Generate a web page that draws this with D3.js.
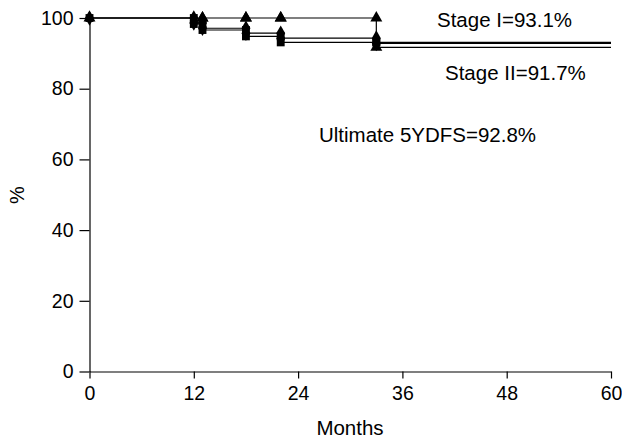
<!DOCTYPE html>
<html>
<head>
<meta charset="utf-8">
<script src="https://cdn.jsdelivr.net/npm/d3@7"></script>
<style>
  body { margin: 0; background: #fff; }
  svg { font-family: "Liberation Sans", Arial, sans-serif; }
</style>
</head>
<body>
<svg id="chart" width="622" height="439"></svg>
<script>
// Disease-free survival curves (months vs %)
const monthTicks = [0, 12, 24, 36, 48, 60];
const pctTicks = [0, 20, 40, 60, 80, 100];

// Stage I (squares)
const stageIMonths = [0, 12, 13, 18, 22, 33];
const stageIValues = [100, 98.3, 96.6, 94.8, 93.1, 93.1];
// Stage II (triangles)
const stageIIMonths = [0, 13, 18, 22, 33];
const stageIIValues = [100, 100, 100, 100, 91.7];
// All patients (diamonds)
const overallMonths = [0, 12, 13, 18, 22, 33];
const overallValues = [100, 98.6, 97.1, 95.7, 94.3, 92.8];

const labels = [
  { text: 'Stage I=93.1%', x: 437, y: 27 },
  { text: 'Stage II=91.7%', x: 445, y: 80 },
  { text: 'Ultimate 5YDFS=92.8%', x: 319, y: 142 }
];

const svg = d3.select('#chart');
const x = d3.scaleLinear().domain([0, 60]).range([89.5, 611]);
const y = d3.scaleLinear().domain([0, 100]).range([371.5, 18]);

// Axes
const xAxis = svg.append('g')
  .attr('transform', `translate(0,${y(0)})`)
  .call(d3.axisBottom(x).tickValues(monthTicks).tickSize(7).tickPadding(8).tickSizeOuter(0));
const yAxis = svg.append('g')
  .attr('transform', `translate(${x(0)},0)`)
  .call(d3.axisLeft(y).tickValues(pctTicks).tickSize(10).tickPadding(6).tickSizeOuter(0));
[xAxis, yAxis].forEach(ax => {
  ax.selectAll('path, line').attr('stroke', '#000').attr('stroke-width', 1.2);
  ax.selectAll('text').attr('font-size', 19.5).attr('fill', '#000')
    .attr('font-family', '"Liberation Sans", Arial, sans-serif');
});

svg.append('text')
  .attr('x', 350).attr('y', 435)
  .attr('text-anchor', 'middle')
  .attr('font-size', 20.5)
  .text('Months');
svg.append('text')
  .attr('transform', 'translate(24,195) rotate(-90)')
  .attr('text-anchor', 'middle')
  .attr('font-size', 20)
  .text('%');

const series = [
  { months: overallMonths, values: overallValues, symbol: d3.symbolDiamond, size: 70 },
  { months: stageIMonths, values: stageIValues, symbol: d3.symbolSquare, size: 62 },
  { months: stageIIMonths, values: stageIIValues, symbol: d3.symbolTriangle, size: 62 }
];

const line = d3.line()
  .x(d => x(d[0]))
  .y(d => y(d[1]))
  .curve(d3.curveStepAfter);

series.forEach(s => {
  const pts = s.months.map((m, i) => [m, s.values[i]]);
  pts.push([60, s.values[s.values.length - 1]]);
  svg.append('path')
    .datum(pts)
    .attr('d', line)
    .attr('fill', 'none')
    .attr('stroke', '#000')
    .attr('stroke-width', 1.2);

  // markers before and after each step
  const marks = [];
  s.months.forEach((m, i) => {
    if (i > 0) marks.push([m, s.values[i - 1]]);
    marks.push([m, s.values[i]]);
  });
  svg.append('g').selectAll('path')
    .data(marks)
    .join('path')
    .attr('transform', d => `translate(${x(d[0])},${y(d[1])})`)
    .attr('d', d3.symbol().type(s.symbol).size(s.size))
    .attr('fill', '#000');
});

svg.append('g').selectAll('text')
  .data(labels)
  .join('text')
  .attr('x', d => d.x)
  .attr('y', d => d.y)
  .attr('font-size', 20.5)
  .text(d => d.text);
</script>
</body>
</html>
